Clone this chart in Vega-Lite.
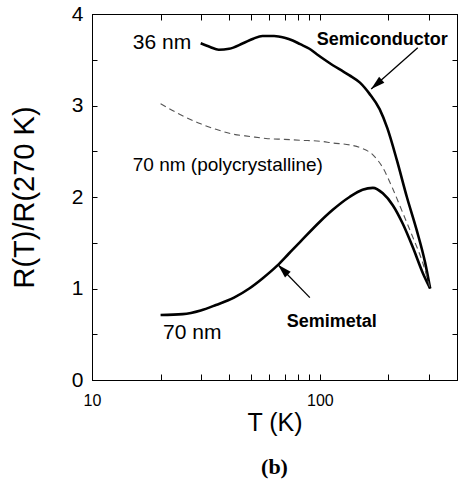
{
"$schema": "https://vega.github.io/schema/vega-lite/v6.json",
"width": 365, "height": 366,
"autosize": "none",
"padding": {"left": 92, "top": 14, "right": 4, "bottom": 102},
"background": "white",
"config": {
  "view": {"stroke": "black", "strokeWidth": 1},
  "axis": {"grid": false, "domainColor": "black", "tickColor": "black", "labelColor": "black", "titleColor": "black", "labelFont": "Liberation Sans", "titleFont": "Liberation Sans", "titleFontWeight": "normal"}
},
"title": {"text": "(b)", "orient": "bottom", "font": "Liberation Serif", "fontSize": 22, "fontWeight": "bold", "color": "black", "anchor": "middle", "offset": 22},
"datasets": {
  "curves": [
    {"series": "36nm", "T": 30, "R": 3.68}, {"series": "36nm", "T": 33, "R": 3.64}, {"series": "36nm", "T": 36, "R": 3.61}, {"series": "36nm", "T": 40, "R": 3.62}, {"series": "36nm", "T": 46, "R": 3.68}, {"series": "36nm", "T": 51, "R": 3.73}, {"series": "36nm", "T": 56, "R": 3.76}, {"series": "36nm", "T": 63, "R": 3.76}, {"series": "36nm", "T": 70, "R": 3.74}, {"series": "36nm", "T": 76, "R": 3.71}, {"series": "36nm", "T": 82, "R": 3.67}, {"series": "36nm", "T": 90, "R": 3.62}, {"series": "36nm", "T": 97, "R": 3.56}, {"series": "36nm", "T": 105, "R": 3.50}, {"series": "36nm", "T": 114, "R": 3.44}, {"series": "36nm", "T": 125, "R": 3.38}, {"series": "36nm", "T": 135, "R": 3.33}, {"series": "36nm", "T": 150, "R": 3.25}, {"series": "36nm", "T": 165, "R": 3.13}, {"series": "36nm", "T": 183, "R": 2.96}, {"series": "36nm", "T": 198, "R": 2.75}, {"series": "36nm", "T": 218, "R": 2.40}, {"series": "36nm", "T": 241, "R": 2.00}, {"series": "36nm", "T": 266, "R": 1.64}, {"series": "36nm", "T": 290, "R": 1.28}, {"series": "36nm", "T": 305, "R": 1.00},
    {"series": "poly", "T": 20, "R": 3.02}, {"series": "poly", "T": 24, "R": 2.91}, {"series": "poly", "T": 30, "R": 2.80}, {"series": "poly", "T": 35, "R": 2.74}, {"series": "poly", "T": 41, "R": 2.69}, {"series": "poly", "T": 50, "R": 2.66}, {"series": "poly", "T": 58, "R": 2.64}, {"series": "poly", "T": 70, "R": 2.63}, {"series": "poly", "T": 82, "R": 2.62}, {"series": "poly", "T": 100, "R": 2.61}, {"series": "poly", "T": 114, "R": 2.59}, {"series": "poly", "T": 135, "R": 2.57}, {"series": "poly", "T": 150, "R": 2.54}, {"series": "poly", "T": 171, "R": 2.46}, {"series": "poly", "T": 189, "R": 2.32}, {"series": "poly", "T": 209, "R": 2.09}, {"series": "poly", "T": 231, "R": 1.83}, {"series": "poly", "T": 256, "R": 1.56}, {"series": "poly", "T": 283, "R": 1.28}, {"series": "poly", "T": 305, "R": 1.00},
    {"series": "semi", "T": 20, "R": 0.71}, {"series": "semi", "T": 25, "R": 0.72}, {"series": "semi", "T": 30, "R": 0.76}, {"series": "semi", "T": 35, "R": 0.82}, {"series": "semi", "T": 42, "R": 0.90}, {"series": "semi", "T": 49, "R": 1.00}, {"series": "semi", "T": 56, "R": 1.11}, {"series": "semi", "T": 65, "R": 1.25}, {"series": "semi", "T": 73, "R": 1.38}, {"series": "semi", "T": 82, "R": 1.51}, {"series": "semi", "T": 100, "R": 1.73}, {"series": "semi", "T": 114, "R": 1.86}, {"series": "semi", "T": 135, "R": 2.00}, {"series": "semi", "T": 154, "R": 2.08}, {"series": "semi", "T": 171, "R": 2.10}, {"series": "semi", "T": 189, "R": 2.04}, {"series": "semi", "T": 209, "R": 1.91}, {"series": "semi", "T": 231, "R": 1.71}, {"series": "semi", "T": 256, "R": 1.45}, {"series": "semi", "T": 283, "R": 1.17}, {"series": "semi", "T": 305, "R": 1.00}
  ],
  "arrows": [
    {"name": "sc", "T": 269, "R": 3.63, "T2": 168, "R2": 3.18},
    {"name": "sm", "T": 90.4, "R": 0.90, "T2": 65.5, "R2": 1.26}
  ],
  "labels": [
    {"kind": "big", "text": "36 nm", "T": 15.1, "R": 3.68},
    {"kind": "big", "text": "70 nm", "T": 20.5, "R": 0.51},
    {"kind": "mid", "text": "70 nm (polycrystalline)", "T": 15.1, "R": 2.35},
    {"kind": "bold", "text": "Semiconductor", "T": 97, "R": 3.72},
    {"kind": "bold", "text": "Semimetal", "T": 71.6, "R": 0.63}
  ]
},
"resolve": {"axis": {"x": "independent", "y": "independent"}},
"layer": [
  {
    "data": {"name": "curves"},
    "transform": [{"filter": "datum.series !== 'poly'"}],
    "mark": {"type": "line", "color": "black", "strokeWidth": 2.6, "interpolate": "monotone"},
    "encoding": {
      "x": {"field": "T", "type": "quantitative", "scale": {"type": "log", "domain": [10, 400], "nice": false},
        "axis": {"orient": "bottom", "title": "T (K)", "values": [10, 20, 30, 40, 50, 60, 70, 80, 90, 100, 200, 300, 400], "labelExpr": "datum.value === 10 || datum.value === 100 ? format(datum.value, 'd') : ''", "tickSize": -6, "labelPadding": 18, "labelFontSize": 16, "titleFontSize": 25, "titlePadding": 2, "labelFlush": false, "labelOverlap": false}},
      "y": {"field": "R", "type": "quantitative", "scale": {"domain": [0, 4], "nice": false},
        "axis": {"orient": "left", "title": "R(T)/R(270 K)", "values": [0, 0.5, 1, 1.5, 2, 2.5, 3, 3.5, 4], "labelExpr": "datum.value % 1 === 0 ? format(datum.value, 'd') : ''", "tickSize": -5, "labelPadding": 14, "labelFontSize": 21, "titleFontSize": 29, "titlePadding": 32, "labelOverlap": false}},
      "detail": {"field": "series"}
    }
  },
  {
    "data": {"name": "curves"},
    "transform": [{"filter": "datum.series === 'poly'"}],
    "mark": {"type": "line", "color": "#555555", "strokeWidth": 1.1, "strokeDash": [6, 4], "interpolate": "monotone"},
    "encoding": {
      "x": {"field": "T", "type": "quantitative", "axis": {"orient": "top", "title": null, "labels": false, "values": [10, 20, 30, 40, 50, 60, 70, 80, 90, 100, 200, 300, 400], "tickSize": -6}},
      "y": {"field": "R", "type": "quantitative", "axis": {"orient": "right", "title": null, "labels": false, "values": [0, 0.5, 1, 1.5, 2, 2.5, 3, 3.5, 4], "tickSize": -5}}
    }
  },
  {
    "data": {"name": "arrows"},
    "mark": {"type": "rule", "color": "black", "strokeWidth": 1.3},
    "encoding": {
      "x": {"field": "T", "type": "quantitative", "axis": null},
      "y": {"field": "R", "type": "quantitative", "axis": null},
      "x2": {"field": "T2"},
      "y2": {"field": "R2"}
    }
  },
  {
    "data": {"name": "arrows"},
    "transform": [{"filter": "datum.name === 'sc'"}],
    "mark": {"type": "point", "shape": "M0,0L-0.4,1.4L0.4,1.4Z", "filled": true, "color": "black", "size": 400, "angle": 229, "opacity": 1},
    "encoding": {
      "x": {"field": "T2", "type": "quantitative", "axis": null},
      "y": {"field": "R2", "type": "quantitative", "axis": null}
    }
  },
  {
    "data": {"name": "arrows"},
    "transform": [{"filter": "datum.name === 'sm'"}],
    "mark": {"type": "point", "shape": "M0,0L-0.4,1.4L0.4,1.4Z", "filled": true, "color": "black", "size": 400, "angle": 315, "opacity": 1},
    "encoding": {
      "x": {"field": "T2", "type": "quantitative", "axis": null},
      "y": {"field": "R2", "type": "quantitative", "axis": null}
    }
  },
  {
    "data": {"name": "labels"},
    "transform": [{"filter": "datum.kind === 'big'"}],
    "mark": {"type": "text", "align": "left", "baseline": "middle", "font": "Liberation Sans", "fontSize": 21, "color": "black"},
    "encoding": {
      "x": {"field": "T", "type": "quantitative", "axis": null},
      "y": {"field": "R", "type": "quantitative", "axis": null},
      "text": {"field": "text"}
    }
  },
  {
    "data": {"name": "labels"},
    "transform": [{"filter": "datum.kind === 'mid'"}],
    "mark": {"type": "text", "align": "left", "baseline": "middle", "font": "Liberation Sans", "fontSize": 19, "color": "black"},
    "encoding": {
      "x": {"field": "T", "type": "quantitative", "axis": null},
      "y": {"field": "R", "type": "quantitative", "axis": null},
      "text": {"field": "text"}
    }
  },
  {
    "data": {"name": "labels"},
    "transform": [{"filter": "datum.kind === 'bold'"}],
    "mark": {"type": "text", "align": "left", "baseline": "middle", "font": "Liberation Sans", "fontSize": 18, "fontWeight": "bold", "color": "black"},
    "encoding": {
      "x": {"field": "T", "type": "quantitative", "axis": null},
      "y": {"field": "R", "type": "quantitative", "axis": null},
      "text": {"field": "text"}
    }
  }
]
}
